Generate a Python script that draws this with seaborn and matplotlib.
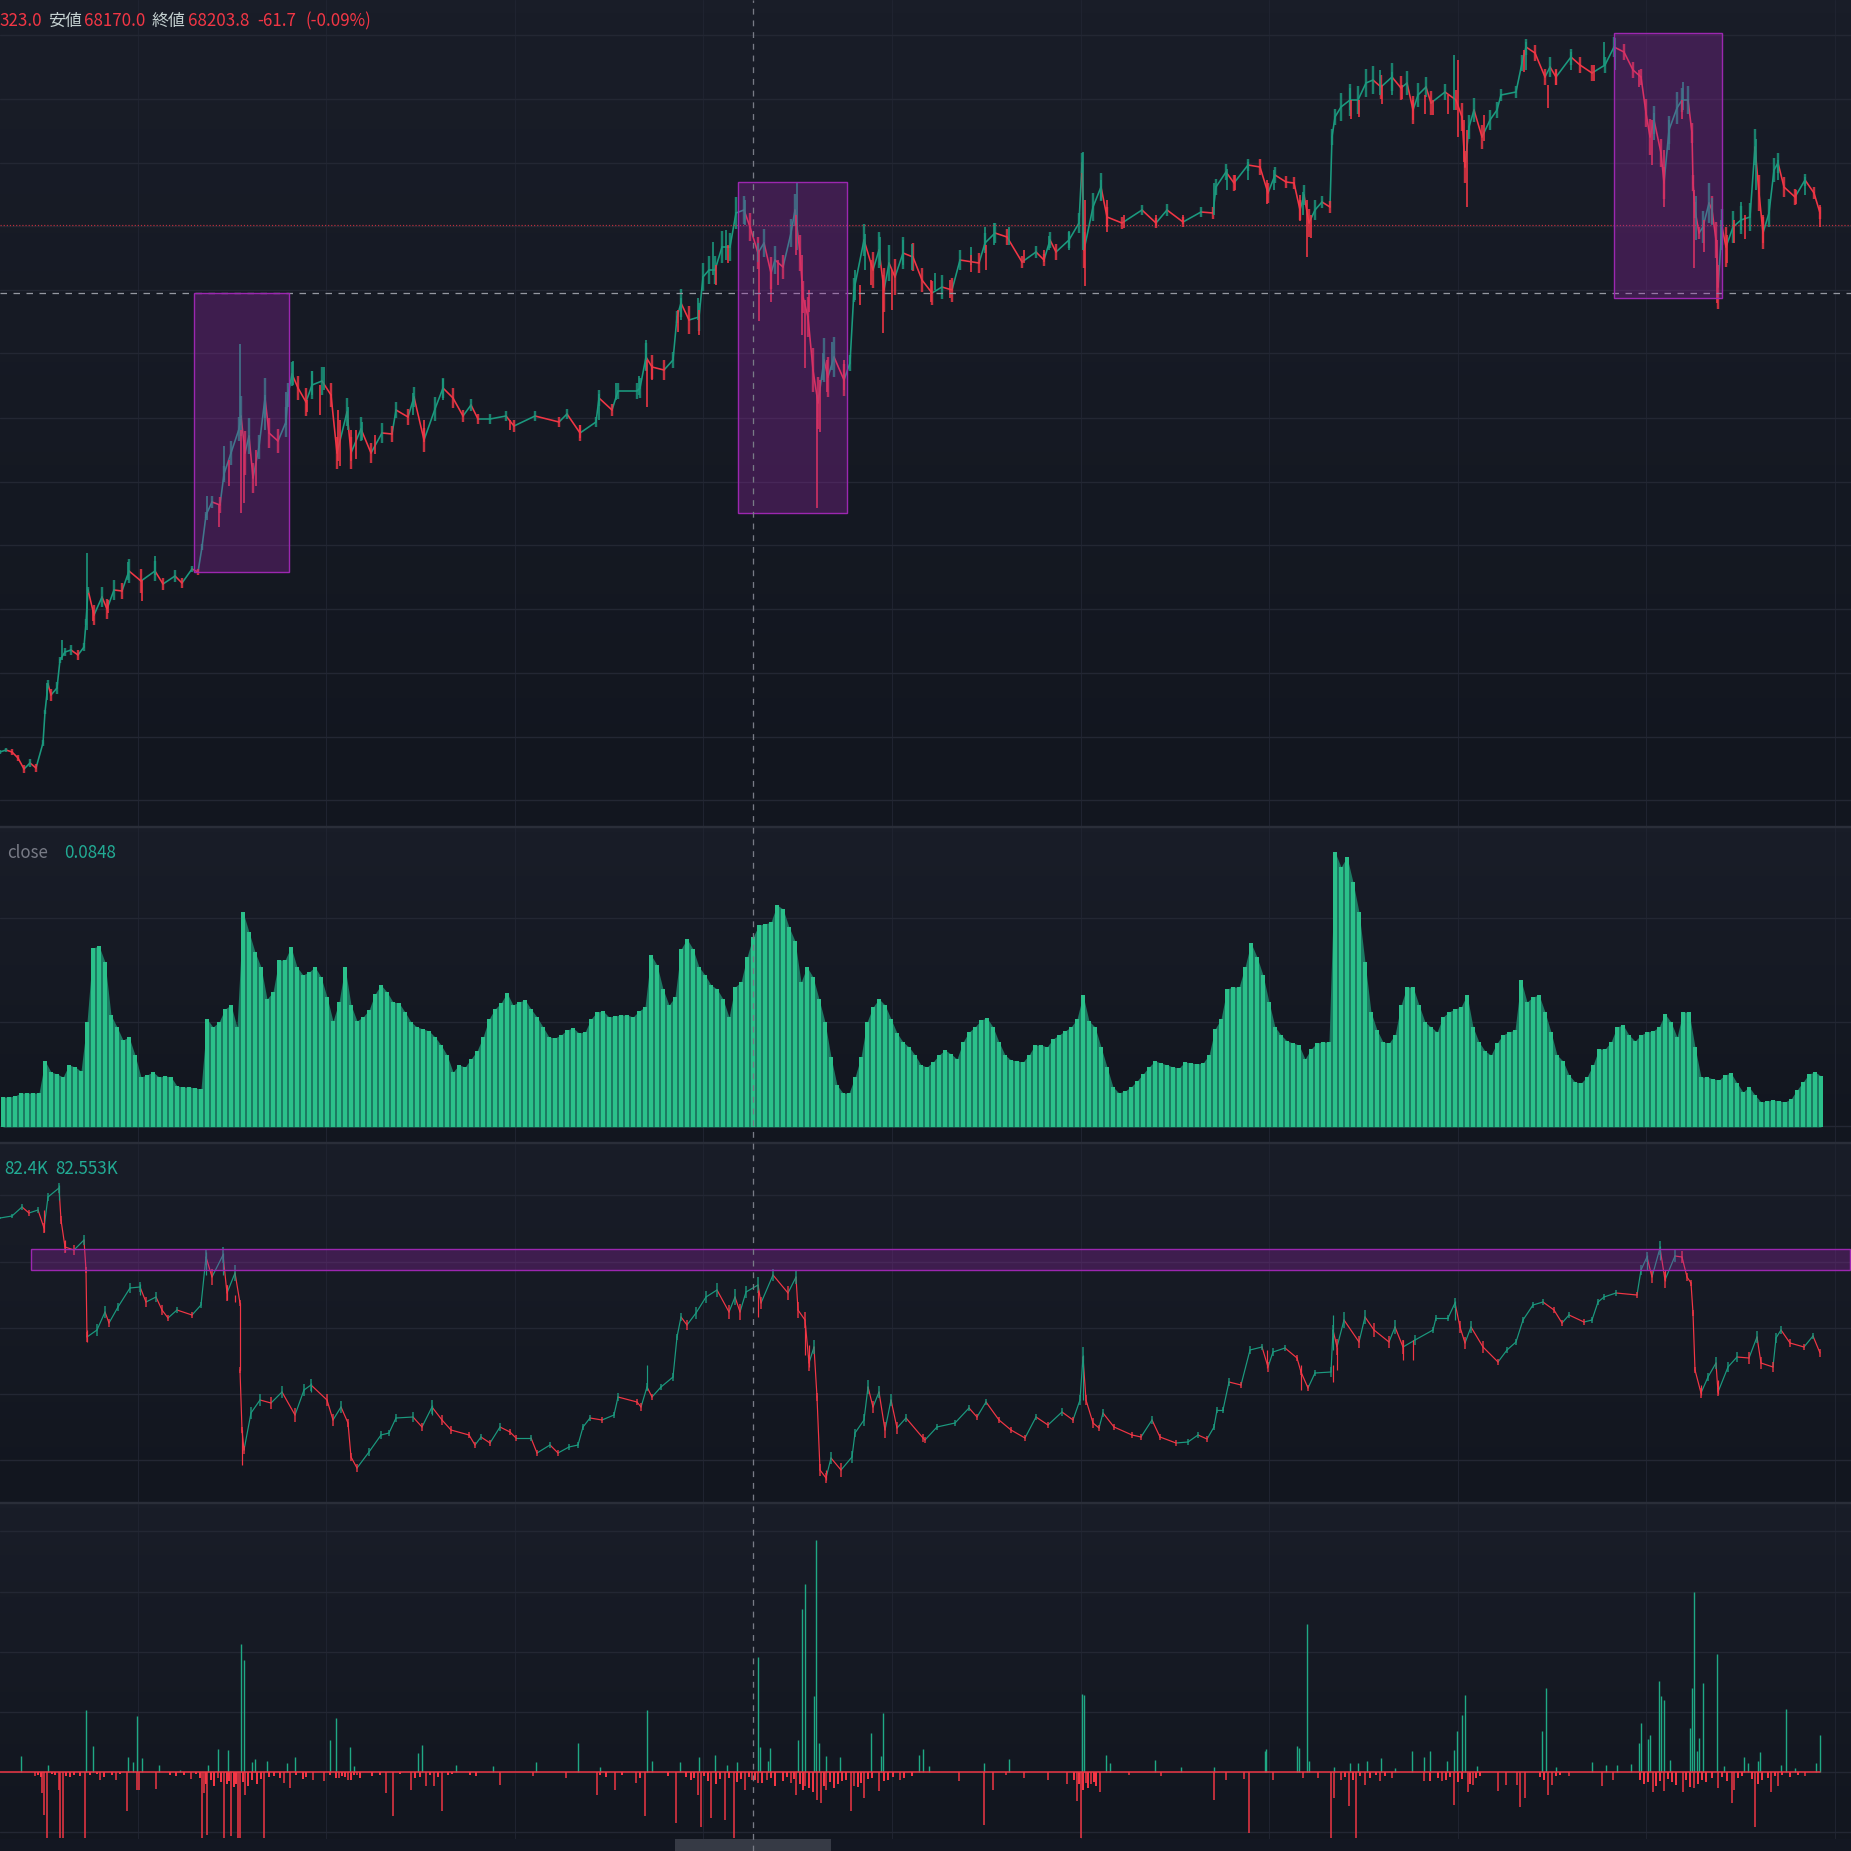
# recreate the four pane trading chart (price, close histogram, second price, flow spikes)
import numpy as np
import pandas as pd
import matplotlib
matplotlib.use('Agg')
import matplotlib.pyplot as plt
from matplotlib.colors import LinearSegmentedColormap
from matplotlib.patches import Rectangle
import seaborn as sns

#################### data ####################

# top pane, levels are rows counted from the top of the chart
price_x = [0,6,12,18,24,30,36,43,45,48,51,57,60,65,71,78,84,86,88,94,102,107,114,122,129,141,155,163,175,182,192,198,202,206,212,220,224,231,239,241,245,249,253,259,265,269,278,286,288,292,298,306,312,322,331,337,347,351,361,371,382,392,396,408,414,424,435,443,453,463,471,478,490,506,514,535,559,567,580,596,599,612,618,637,
           640,646,652,664,673,677,681,689,699,703,709,715,722,730,736,744,750,758,764,771,775,783,791,795,800,803,808,813,818,824,828,834,844,850,854,864,873,879,884,889,895,903,913,922,932,942,952,960,979,985,995,1007,1022,1036,1044,1050,1056,1069,1079,1082,1084,1093,1101,1107,1122,1142,1156,1167,1183,1201,1213,1216,1226,1234,1248,
           1260,1268,1275,1286,1294,1300,1304,1309,1315,1322,1330,1332,1335,1341,1350,1358,1366,1373,1381,1392,1401,1407,1413,1418,1426,1431,1445,1456,1462,1465,1469,1474,1482,1490,1497,1501,1516,1522,1526,1535,1545,1550,1556,1571,1580,1592,1605,1614,1624,1633,1641,1646,1650,1654,1661,1664,1669,1677,1682,1688,1692,1693,1695,1699,1703,1709,1712,1716,1718,1722,1726,1733,1741,1750,1755,1759,1763,1769,1774,1778,1784,1795,1805,1814,1820]
price_close = [752,750,752,758,769,763,768,743,712,684,695,688,660,652,650,655,647,622,590,615,597,609,590,591,571,581,571,584,576,583,569,572,547,515,502,505,474,453,429,416,453,436,478,447,398,433,441,422,395,374,388,402,385,381,395,453,412,453,429,453,433,434,410,417,397,440,409,388,398,416,405,419,419,416,426,416,422,414,433,422,398,410,391,391,
               388,357,367,370,360,317,303,320,317,277,270,270,247,247,213,210,227,253,243,273,260,267,233,210,253,297,317,370,403,360,377,357,380,363,290,240,270,250,290,263,277,253,257,280,293,287,290,260,263,243,233,237,262,252,260,240,252,240,223,163,250,207,187,217,223,210,223,210,222,212,213,187,172,183,165,
               167,193,175,182,183,210,195,223,210,202,207,137,117,107,100,100,83,80,87,77,88,83,110,95,87,103,92,100,117,167,127,110,137,120,110,95,92,63,47,53,77,67,77,57,65,73,65,47,52,70,77,113,137,120,153,183,130,108,100,100,133,183,210,233,227,203,210,240,287,227,247,227,220,217,147,193,233,213,170,163,187,197,180,193,213]
# half height of the candle cluster around each reading
price_spread = [2,2,3,3,4,4,4,3,2,4,6,6,3,4,5,5,4,3,3,10,10,10,10,8,12,12,10,6,6,5,3,3,3,3,6,8,8,12,12,20,
                22,18,15,12,20,15,12,15,12,12,12,14,14,14,12,16,14,16,12,10,10,8,8,8,10,12,12,10,10,6,6,5,5,5,6,5,5,5,8,5,8,6,8,8,
                10,14,12,10,8,6,14,14,14,14,14,14,16,14,16,14,14,16,14,16,14,12,14,16,18,16,20,22,26,22,20,20,16,8,12,16,18,18,22,18,
                18,16,14,12,12,12,12,10,10,10,10,8,6,6,6,8,8,8,10,10,18,14,14,10,6,5,5,6,5,5,6,8,8,8,6,
                8,10,8,6,6,10,10,14,10,6,6,8,8,14,16,14,14,14,12,14,12,12,14,12,10,12,8,10,14,16,12,12,12,10,8,6,6,8,8,8,
                8,10,8,8,8,8,8,10,8,8,8,14,18,14,14,16,14,16,12,14,10,8,8,6,16,20,14,18,22,18,20,16,14,14,18,18,16,14,12,10,10,8,6,6,6]

# upper wicks: where, tip, body
hi_x = [47,62,87,128,155,207,224,240,265,286,293,312,324,348,362,413,443,599,616,639,646,681,698,713,726,745,758,797,823,832,855,865,880,903,912,935,971,985,994,1009,1049,1069,1083,1101,1214,1227,1248,1274,1303,1350,1380,1392,1454,1526,1571,1604,1615,1654,1669,1683,1696,1712,1721,1741,1756,1778,1805]
hi_tip = [683,640,553,562,556,496,446,344,395,392,361,371,367,407,422,393,379,394,383,376,340,298,298,242,230,200,243,183,353,342,270,234,237,240,244,273,247,227,223,227,236,231,152,180,183,169,162,170,192,88,70,72,55,42,52,42,38,113,120,82,196,198,220,202,139,160,177]
hi_body = [700,660,630,580,575,520,480,425,430,425,385,395,390,430,440,415,400,420,400,395,370,320,320,275,260,225,262,250,380,370,300,270,265,265,270,290,265,250,245,245,250,250,250,200,215,190,180,190,215,110,95,95,110,70,70,65,70,140,150,110,240,225,250,230,190,180,195]

# lower wicks: where, body, tip
lo_x = [93,108,142,219,229,241,244,256,307,320,338,340,351,356,375,424,510,580,647,652,678,699,716,728,759,771,778,796,802,805,809,817,820,827,844,860,871,883,892,931,950,971,986,1024,1044,1085,1107,1124,1156,1183,1235,1267,1300,1307,1311,1351,1359,1382,1402,1413,1425,1433,1448,1458,1464,1467,1484,1524,1548,1556,1594,1639,1652,1664,1682,1694,1704,1717,1727,1734,1745,1763,1796,1820]
lo_body = [610,600,580,505,460,430,440,450,400,385,410,420,430,430,435,420,420,425,360,365,310,310,265,245,250,270,260,215,255,300,290,395,380,360,360,285,260,275,270,280,280,255,245,250,250,200,200,215,215,215,175,180,195,200,215,100,100,85,85,100,95,100,95,60,120,130,115,50,85,70,65,70,120,150,100,190,220,240,235,220,215,215,190,205]
lo_tip = [621,613,601,527,486,513,503,486,412,415,461,466,461,459,454,442,430,438,407,380,332,335,285,263,321,302,285,255,335,368,312,508,432,392,390,305,285,333,310,302,298,272,270,263,262,286,232,228,226,224,190,204,221,257,238,119,117,104,99,120,114,115,114,137,162,207,141,72,108,85,81,87,165,207,119,268,252,303,263,243,239,243,204,227]

# histogram pane, one height per column
close_vals = [30,30,31,34,34,34,34,66,55,53,50,62,60,56,105,179,181,165,112,100,
              87,90,72,50,52,55,50,51,50,41,40,40,39,38,108,100,105,118,122,100,
              215,195,175,160,128,135,167,167,180,160,152,155,160,150,130,106,125,160,122,106,
              110,117,133,142,135,125,124,115,105,100,98,96,90,82,72,55,62,60,68,76,
              90,108,118,124,134,122,125,127,118,110,100,90,89,92,97,99,94,95,108,115,
              116,110,111,112,112,110,116,120,172,162,138,122,130,178,188,178,160,152,142,138,
              128,110,140,145,170,190,202,203,205,222,218,200,186,145,160,150,128,105,70,42,
              34,34,50,70,105,120,128,122,108,94,85,80,72,62,60,65,72,77,73,68,
              85,95,100,107,109,100,85,72,67,66,65,72,82,82,80,88,92,96,100,108,
              132,106,100,80,60,40,34,36,40,46,53,60,66,64,62,60,59,65,64,63,
              64,72,98,108,138,140,140,160,184,170,152,125,100,92,86,84,82,68,78,84,
              85,85,275,260,270,245,215,165,115,97,85,84,92,122,140,140,122,105,100,95,
              110,115,118,120,132,100,85,76,72,84,92,95,97,147,125,130,132,115,95,72,
              66,52,45,44,50,62,78,78,85,100,102,92,86,92,95,96,100,113,105,90,
              115,115,80,50,50,48,47,52,54,44,35,40,32,25,26,27,26,25,28,37,
              45,53,55,51]

# third pane, rows counted from the top of the chart
second_x = [0,12,22,29,38,44,48,59,61,65,74,84,86,87,97,105,109,118,130,140,146,156,162,168,177,192,201,206,212,223,227,235,240,240,242,244,251,260,271,282,295,304,311,327,333,341,348,351,357,369,381,389,396,413,422,432,442,451,469,475,481,490,500,510,516,531,537,550,558,569,578,583,590,602,614,618,637,641,647,652,661,673,677,681,687,696,706,717,729,735,740,746,758,761,773,788,796,798,805,809,814,817,820,826,831,841,852,855,864,868,873,879,885,891,897,906,923,
            925,937,955,969,977,986,999,1011,1025,1036,1048,1062,1073,1080,1083,1086,1093,1099,1103,1114,1132,1141,1152,1160,1176,1188,1198,1207,1214,1217,1223,1229,1241,1250,1262,1268,1273,1285,1297,1301,1308,1315,1331,1333,1337,1344,1359,1365,1374,1389,1395,1403,1415,1433,1436,1448,1455,1460,1465,1471,1483,1498,1507,1516,1523,1533,1543,1554,1562,1569,1584,1592,1598,1604,1616,1637,1641,1647,1652,1660,1665,1675,1682,1687,1691,1693,1695,1701,1708,1716,1718,1728,1737,1749,1757,1761,1773,1776,1781,1790,1804,1813,1820]
second_close = [1218,1216,1207,1213,1210,1228,1197,1188,1220,1247,1250,1240,1270,1337,1330,1312,1323,1307,1288,1287,1302,1297,1310,1318,1310,1315,1305,1257,1277,1255,1293,1273,1303,1370,1430,1450,1413,1400,1403,1392,1415,1390,1385,1400,1420,1407,1423,1457,1468,1452,1435,1433,1418,1417,1427,1407,1420,1430,1435,1445,1437,1443,1427,1432,1438,1438,1453,1445,1453,1447,1445,1427,1418,1420,1415,1397,1402,1407,1387,1397,1387,1377,1337,1317,1325,1313,1297,1290,1312,1297,1312,1292,1285,1303,1275,1293,1277,1310,1320,1363,1347,1397,1470,1478,1458,1470,1457,1433,1420,1387,1407,1392,1430,1400,1428,1418,1438,
                1440,1427,1423,1408,1417,1402,1420,1430,1438,1417,1425,1412,1420,1400,1357,1400,1423,1428,1413,1427,1435,1437,1420,1437,1443,1442,1435,1439,1427,1410,1410,1382,1385,1350,1347,1367,1352,1348,1358,1372,1388,1373,1372,1330,1347,1320,1342,1317,1330,1342,1327,1347,1340,1330,1318,1318,1303,1327,1343,1327,1347,1362,1350,1342,1320,1305,1302,1310,1323,1315,1322,1320,1302,1297,1293,1295,1270,1257,1277,1248,1280,1256,1257,1277,1283,1313,1370,1393,1377,1363,1392,1367,1357,1358,1337,1363,1367,1338,1330,1343,1347,1336,1353]
second_spread = [1,2,3,3,3,5,4,5,4,6,5,5,3,5,6,6,4,4,5,5,5,5,5,3,3,3,3,8,8,8,8,8,3,3,3,4,6,6,6,6,7,6,6,6,6,6,4,4,4,4,
                 4,3,4,5,4,7,5,4,3,3,3,3,4,3,3,3,3,3,3,3,3,3,3,3,3,4,3,4,4,3,3,4,3,4,5,6,6,7,7,8,8,6,8,6,6,7,7,8,8,8,7,4,6,5,6,7,6,4,6,7,6,6,8,6,6,4,4,
                 3,3,3,3,3,3,3,3,3,3,3,4,3,5,10,5,5,3,4,3,3,3,4,3,3,3,3,3,3,3,3,4,3,4,3,5,4,3,3,3,3,3,5,5,8,8,6,7,7,6,7,7,5,3,3,3,5,6,6,6,
                 6,3,3,3,3,3,3,3,3,3,3,3,3,3,3,3,5,5,6,7,8,6,6,4,3,3,3,5,4,6,4,5,5,6,6,6,5,5,4,4,3,3,4]
second_hi_x = [59,140,206,223,311,432,647,1083,1333,1455,1647,1660]
second_hi_tip = [1185,1284,1252,1253,1383,1405,1365,1355,1315,1301,1255,1246]
second_hi_body = [1200,1295,1275,1275,1392,1415,1390,1400,1350,1320,1270,1260]
second_lo_x = [44,65,87,227,235,242,758,805,809,826,1267,1301,1333,1337,1403,1413,1665,1701,1718]
second_lo_body = [1210,1240,1330,1285,1295,1430,1290,1325,1345,1470,1350,1365,1365,1347,1340,1340,1270,1385,1380]
second_lo_tip = [1232,1252,1342,1300,1302,1465,1317,1355,1367,1480,1368,1390,1382,1370,1360,1360,1281,1395,1394]

# bottom pane, spikes above and below the zero line
buy_x = [21,48,86,93,128,133,137,142,159,180,208,218,228,241,244,252,255,267,287,295,330,336,350,354,418,422,456,493,536,578,600,647,652,680,699,715,727,737,758,760,768,770,798,802,805,814,816,819,826,840,871,881,883,919,923,929,984,1009,1082,1084,1106,1110,1155,1181,1214,1265,1266,1297,1299,1307,1309,1334,1350,1358,1367,1381,1395,1412,1424,1430,1447,1454,1457,1462,1465,1477,1542,1546,1556,1592,1606,1617,1631,1639,1641,1648,1650,1659,1661,1664,1670,1690,1692,1694,1697,1699,1703,1717,1724,1744,1748,1758,1760,1781,1786,1795,1816,1820]
buy_val = [16,7,62,26,15,10,56,14,7,2,7,23,22,128,112,10,13,11,9,15,32,54,25,6,19,27,7,6,10,29,5,62,11,10,15,17,7,10,115,25,11,24,32,163,188,76,232,29,16,15,39,16,59,17,23,6,9,13,78,77,17,9,12,5,5,21,23,26,24,148,11,5,9,9,11,14,4,21,15,21,11,22,41,57,77,6,41,84,5,10,7,7,8,29,49,33,37,91,76,72,12,44,84,180,21,34,89,118,6,15,9,11,20,7,63,4,9,37]
sell_x = [35,42,44,47,59,60,63,85,100,116,127,137,139,156,191,202,204,207,218,224,231,238,240,245,264,284,290,313,324,339,348,357,386,393,411,426,434,442,500,533,566,597,615,636,645,676,698,701,711,725,734,745,752,758,767,791,796,805,817,821,826,851,854,864,879,900,959,984,993,1006,1024,1048,1067,1077,1081,1086,1091,1100,1129,1161,1214,1226,1244,1249,1273,1303,1318,1331,1334,1341,1349,1356,1365,1380,1392,1424,1442,1454,1468,1473,1498,1506,1517,1520,1525,1548,1552,1569,1602,1613,1653,1664,1683,1694,1718,1732,1734,1755,1771,1778,1805]
sell_val = [-4,-21,-43,-66,-18,-66,-66,-66,-8,-8,-39,-18,-18,-17,-7,-66,-21,-63,-6,-66,-64,-66,-66,-23,-66,-11,-16,-8,-9,-6,-8,-3,-21,-44,-18,-14,-14,-39,-13,-4,-6,-23,-18,-11,-44,-51,-23,-55,-46,-48,-66,-18,-8,-11,-8,-11,-23,-14,-28,-31,-18,-39,-14,-26,-19,-8,-9,-53,-18,-3,-6,-8,-12,-29,-66,-11,-12,-20,-3,-4,-28,-8,-7,-61,-8,-6,-6,-66,-26,-8,-34,-66,-13,-9,-6,-9,-9,-33,-20,-13,-19,-13,-13,-35,-26,-23,-13,-4,-14,-8,-20,-19,-20,-16,-16,-31,-18,-55,-20,-14,-4]
# the short red fuzz under the zero line
fuzz_x = [38,41,52,55,66,70,74,80,90,97,104,112,120,170,176,184,196,200,206,211,214,221,227,229,234,236,243,248,252,257,261,269,274,280,296,303,306,330,336,342,345,351,354,360,372,380,400,415,420,430,438,448,452,470,476,
          600,606,622,640,668,686,691,694,704,708,716,720,729,737,741,749,755,762,771,775,783,787,794,800,803,809,813,824,830,834,838,842,846,858,861,868,872,884,888,893,904,912,
          1074,1079,1083,1088,1094,1096,1345,1353,1360,1370,1376,1385,1430,1438,1446,1450,1458,1462,1470,1476,1480,1540,1544,1556,1560,
          1640,1644,1648,1656,1660,1668,1672,1676,1686,1690,1698,1702,1706,1712,1722,1727,1738,1742,1752,1758,1762,1768,1775,1782,1790,1798]
fuzz_val = [-3,-5,-2,-3,-4,-5,-3,-4,-3,-2,-5,-3,-2,-3,-4,-3,-2,-6,-12,-8,-14,-10,-12,-9,-15,-12,-10,-14,-8,-12,-7,-5,-4,-6,-3,-7,-5,-3,-6,-4,-5,-8,-3,-6,-4,-3,-2,-6,-5,-3,-5,-3,-2,-3,-4,
            -3,-5,-3,-6,-4,-5,-8,-6,-4,-9,-12,-7,-6,-10,-7,-5,-8,-11,-6,-14,-9,-5,-7,-12,-18,-16,-20,-14,-10,-16,-12,-9,-8,-15,-11,-7,-6,-9,-8,-5,-6,-4,
            -8,-12,-18,-16,-10,-14,-5,-8,-4,-6,-3,-4,-9,-6,-8,-5,-10,-7,-12,-6,-4,-5,-8,-4,-3,
            -8,-12,-10,-14,-9,-7,-10,-13,-8,-15,-12,-8,-10,-6,-5,-9,-6,-4,-7,-12,-8,-6,-4,-3,-5,-3]

# purple boxes and header numbers
box_left = [194,738,1614]
box_right = [289,847,1722]
box_top = [293,182,33]
box_bottom = [572,513,298]
header_red = ['323.0','68170.0','68203.8','-61.7','(-0.09%)']
header_label = ['安値','終値']

#################### styling ####################
sns.set_theme(style='dark')
plt.rcParams['font.family'] = ['Noto Sans CJK JP', 'DejaVu Sans']

UP = '#1b9a7f'
DOWN = '#f23645'
BAR = '#2bc08a'
BAR_DARK = '#1c7a62'
GRID = '#232733'
BOX = '#9c27b0'
W, H = 1851, 1851
px = 0.72  # one pixel in points at dpi 100
GRID_X = 137.5 + 188.6 * np.arange(10)

fig = plt.figure(figsize=(W / 100, H / 100), dpi=100, facecolor='#131722')


def add_pane(top, bottom, ylim, grid_rows):
    ax = fig.add_axes([0, 1 - bottom / H, 1, (bottom - top) / H])
    fade = LinearSegmentedColormap.from_list('fade', ['#191d28', '#12161f'])
    ax.imshow(np.linspace(0, 1, 64)[:, None], cmap=fade, aspect='auto',
              extent=[0, W, ylim[0], ylim[1]], origin='upper', zorder=0)
    ax.set_xlim(0, W)
    ax.set_ylim(*ylim)
    ax.set_xticks(GRID_X)
    ax.set_yticks(grid_rows)
    ax.grid(True, axis='y', color=GRID, lw=1.4 * px, zorder=1)
    ax.grid(True, axis='x', color='#1f2330', lw=1.1 * px, zorder=1)
    ax.set_axisbelow(True)
    ax.tick_params(length=0, labelbottom=False, labelleft=False)
    for s in ax.spines.values():
        s.set_visible(False)
    return ax


def draw_price(ax, xs, closes, spread, hi, lo, lw, cluster_lw):
    # one two-point line per step, coloured by direction
    rows = []
    for i in range(len(xs) - 1):
        d = 'down' if closes[i + 1] > closes[i] else 'up'
        rows.append((i, xs[i], closes[i], d))
        rows.append((i, xs[i + 1], closes[i + 1], d))
    df = pd.DataFrame(rows, columns=['seg', 'x', 'y', 'dir'])
    sns.lineplot(data=df, x='x', y='y', hue='dir', units='seg', estimator=None,
                 palette={'up': UP, 'down': DOWN}, legend=False, lw=lw * px,
                 sort=False, ax=ax, zorder=3)
    # candle clusters around every reading
    c = np.array(closes, dtype=float)
    s = np.array(spread, dtype=float)
    cols = [DOWN if i > 0 and c[i] > c[i - 1] else UP for i in range(len(c))]
    ax.vlines(xs, c - s, c + s, colors=cols, lw=cluster_lw * px, alpha=0.8, zorder=3)
    ax.vlines(hi[0], hi[1], hi[2], color=UP, lw=lw * px, zorder=3)
    ax.vlines(lo[0], lo[1], lo[2], color=DOWN, lw=lw * px, zorder=3)
    ax.set_xlabel('')
    ax.set_ylabel('')


# top pane
ax1 = add_pane(0, 827, (827, 0), [35, 99, 163, 226, 290, 353, 418, 482, 545, 609, 673, 737, 800])
draw_price(ax1, price_x, price_close, price_spread, (hi_x, hi_tip, hi_body), (lo_x, lo_body, lo_tip), 1.6, 2.4)
ax1.axhline(225, color=DOWN, alpha=0.75, lw=1.2 * px, ls=(0, (1, 1.6)), zorder=4)
ax1.axhline(293, color='#9598a1', lw=1.3 * px, ls=(0, (5, 5)), zorder=4)
for l, r, t, b in zip(box_left, box_right, box_top, box_bottom):
    ax1.add_patch(Rectangle((l, t), r - l, b - t, fc=BOX, ec='none', alpha=0.3, zorder=5))
    ax1.add_patch(Rectangle((l, t), r - l, b - t, fc='none', ec=BOX, lw=1.4 * px, zorder=5))
ax1.set_xlim(0, W)
ax1.set_ylim(827, 0)

# histogram pane
ax2 = add_pane(828, 1143, (-16, 299), [1, 105, 209])
close_x = np.arange(3, 1825, 6)
ax2.fill_between(close_x, 0, close_vals, color=BAR_DARK, lw=0, zorder=2)
sns.barplot(x=close_x, y=close_vals, native_scale=True, color=BAR, saturation=1,
            width=0.8, linewidth=0, ax=ax2, zorder=3)
ax2.set_xlim(0, W)
ax2.set_ylim(-16, 299)
ax2.set_xticks(GRID_X)
ax2.set_xlabel('')
ax2.set_ylabel('')
ax2.tick_params(length=0, labelbottom=False, labelleft=False)

# second price pane
ax3 = add_pane(1144, 1503, (1503, 1144), [1195, 1262, 1328, 1394, 1460])
draw_price(ax3, second_x, second_close, second_spread, (second_hi_x, second_hi_tip, second_hi_body),
           (second_lo_x, second_lo_body, second_lo_tip), 1.2, 1.7)
ax3.add_patch(Rectangle((31, 1249), W - 31, 21, fc=BOX, ec='none', alpha=0.3, zorder=5))
ax3.add_patch(Rectangle((31, 1249), W - 32, 21, fc='none', ec=BOX, lw=1.4 * px, zorder=5))
ax3.set_xlim(0, W)
ax3.set_ylim(1503, 1144)

# spike pane
ax4 = add_pane(1504, 1839, (-67, 268), [-60, 0, 60, 120, 180, 241])
ax4.vlines(buy_x, 0, buy_val, color='#1fa985', lw=1.4 * px, zorder=3)
ax4.vlines(sell_x, 0, sell_val, color=DOWN, lw=1.5 * px, zorder=3)
ax4.vlines(fuzz_x, 0, fuzz_val, color=DOWN, lw=2 * px, zorder=3)
ax4.plot([0, 1820], [0, 0], color=DOWN, lw=1.5 * px, zorder=4)

# separators, crosshair, header and scroll handle sit on a full figure layer in pixels
top = fig.add_axes([0, 0, 1, 1], facecolor='none')
top.set_xlim(0, W)
top.set_ylim(H, 0)
top.axis('off')
for row in [827, 1143, 1503]:
    top.axhline(row, color='#2a2e39', lw=2.4 * px)
top.add_patch(Rectangle((675, 1839), 156, 12, fc='#363a45', ec='none'))
top.axvline(753, color='#787b86', lw=1.3 * px, ls=(0, (4.5, 4.5)))

fs = 12.2
for s, x in zip(header_red, [-1, 84, 188, 257, 305]):
    top.text(x, 21, s, color=DOWN, fontsize=fs, va='center', ha='left')
for s, x in zip(header_label, [48, 152]):
    top.text(x, 21, s, color='#c4d0d0', fontsize=fs, va='center', ha='left')
top.text(7, 853, 'close', color='#787b86', fontsize=fs, va='center')
top.text(64, 853, '0.0848', color='#22ab94', fontsize=fs, va='center')
top.text(4, 1169, '82.4K', color='#22ab94', fontsize=fs, va='center')
top.text(55, 1169, '82.553K', color='#22ab94', fontsize=fs, va='center')

fig.savefig('out.png', dpi=100, facecolor=fig.get_facecolor())
